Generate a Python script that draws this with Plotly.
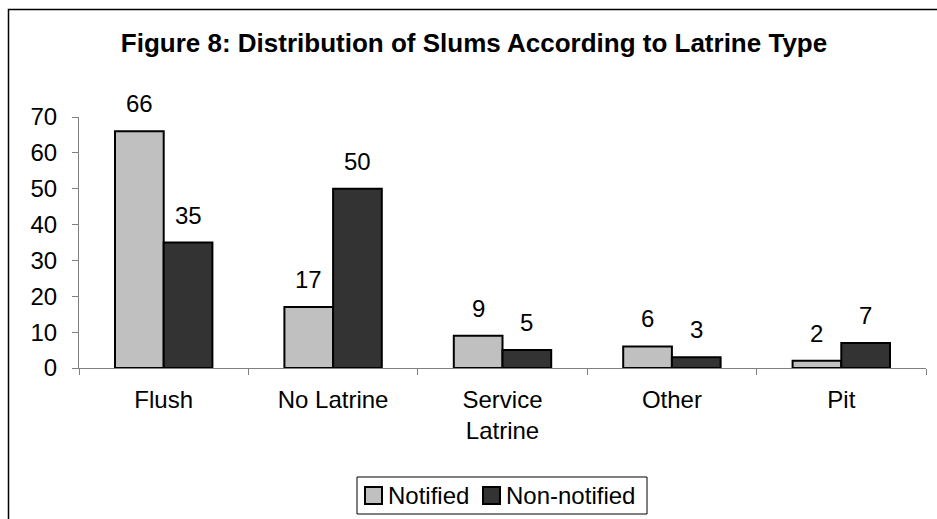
import plotly.graph_objects as go

categories = ["Flush", "No Latrine", "Service<br>Latrine", "Other", "Pit"]
notified = [66, 17, 9, 6, 2]
non_notified = [35, 50, 5, 3, 7]
y_ticks = [0, 10, 20, 30, 40, 50, 60, 70]
series_names = ["Notified", "Non-notified"]
series_colors = ["#C0C0C0", "#333333"]

FONT = "Liberation Sans, Arial, sans-serif"
W, H = 937, 519
ML, MR, MT, MB = 79, 11, 117, 151
PW, PH = W - ML - MR, H - MT - MB
BARGAP = 0.425
# horizontal offset of each bar centre from its category centre, in px
BAR_OFFSET = PW / len(categories) * (1 - BARGAP) / 4


def px_to_paper_x(px):
    return (px - ML) / PW


def px_to_paper_y(py):
    return (H - MB - py) / PH


fig = go.Figure()
for name, color, values in zip(series_names, series_colors, (notified, non_notified)):
    fig.add_trace(go.Bar(
        name=name, x=categories, y=values, showlegend=False,
        marker=dict(color=color, line=dict(color="#000000", width=2)),
    ))

# value labels above each bar
for values, shift in ((notified, -BAR_OFFSET), (non_notified, BAR_OFFSET)):
    for cat, v in zip(categories, values):
        fig.add_annotation(
            x=cat, y=v, xref="x", yref="y", text=str(v), showarrow=False,
            xshift=shift, yshift=12, yanchor="bottom",
            font=dict(family=FONT, size=24, color="#000000"),
        )

# outer chart frame
fig.add_shape(
    type="rect", xref="paper", yref="paper",
    x0=px_to_paper_x(8.5), x1=px_to_paper_x(W + 20),
    y0=px_to_paper_y(H + 20), y1=px_to_paper_y(9.5),
    line=dict(color="#000000", width=1.5), fillcolor="rgba(0,0,0,0)",
    layer="below",
)

# legend box with square keys
fig.add_shape(
    type="rect", xref="paper", yref="paper",
    x0=px_to_paper_x(357), x1=px_to_paper_x(647),
    y0=px_to_paper_y(514), y1=px_to_paper_y(477),
    line=dict(color="#000000", width=1), fillcolor="#FFFFFF",
)
for name, color, key_x in zip(series_names, series_colors, (365, 483)):
    fig.add_shape(
        type="rect", xref="paper", yref="paper",
        x0=px_to_paper_x(key_x), x1=px_to_paper_x(key_x + 17),
        y0=px_to_paper_y(504), y1=px_to_paper_y(487),
        line=dict(color="#000000", width=2), fillcolor=color,
    )
    fig.add_annotation(
        x=px_to_paper_x(key_x + 21), y=px_to_paper_y(495.5),
        xref="paper", yref="paper", text=name, showarrow=False,
        xanchor="left", yanchor="middle",
        font=dict(family=FONT, size=24, color="#000000"),
    )

fig.update_layout(
    width=W, height=H,
    margin=dict(l=ML, r=MR, t=MT, b=MB, pad=0, autoexpand=False),
    paper_bgcolor="#FFFFFF", plot_bgcolor="#FFFFFF",
    barmode="group", bargap=BARGAP, bargroupgap=0,
    font=dict(family=FONT, size=24, color="#000000"),
    title=dict(
        text="<b>Figure 8: Distribution of Slums According to Latrine Type</b>",
        font=dict(family=FONT, size=26, color="#000000"),
        x=px_to_paper_x(474), xref="paper", xanchor="center",
        y=1 - 43 / H, yref="container", yanchor="middle",
    ),
    xaxis=dict(
        showline=True, linecolor="#808080", linewidth=1,
        ticks="outside", tickson="boundaries", ticklen=6, tickcolor="#808080",
        tickfont=dict(family=FONT, size=24, color="#000000"),
        ticklabelstandoff=10,
        showgrid=False, zeroline=False,
    ),
    yaxis=dict(
        range=[0, 70], tickvals=y_ticks,
        showline=True, linecolor="#808080", linewidth=1,
        ticks="outside", ticklen=6, tickcolor="#808080",
        tickfont=dict(family=FONT, size=24, color="#000000"),
        ticklabelstandoff=10,
        showgrid=False, zeroline=False,
    ),
    showlegend=False,
)

fig.write_html("out.html")
